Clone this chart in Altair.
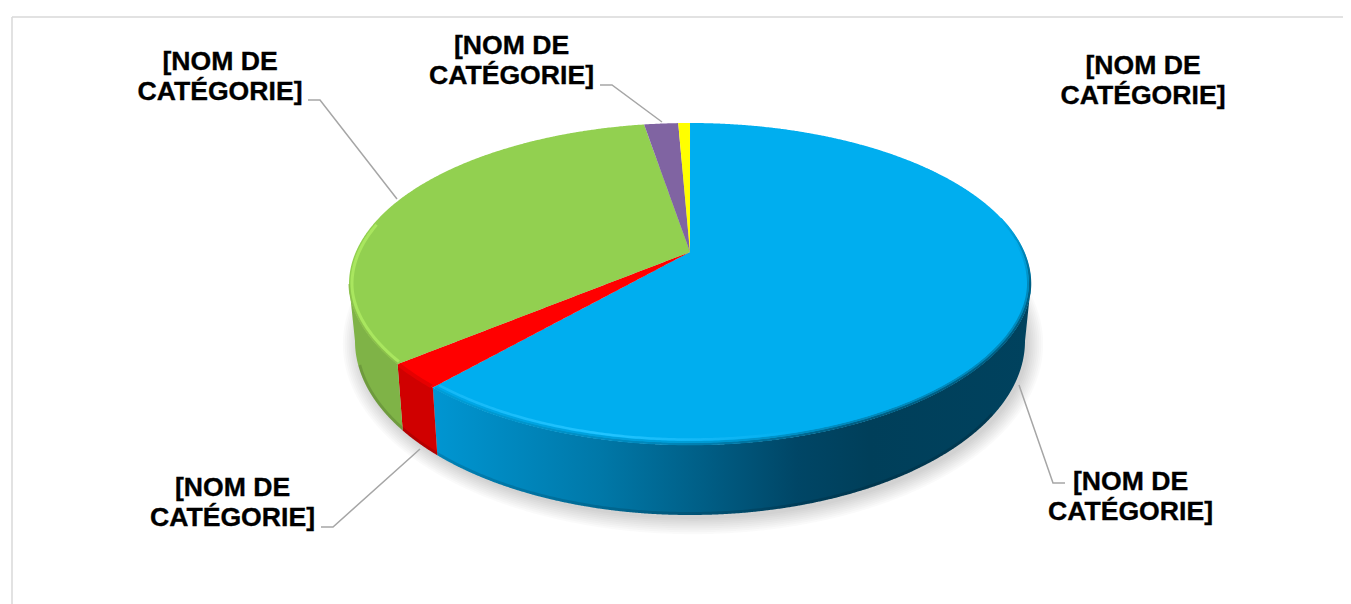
import numpy as np
import pandas as pd
import altair as alt

# ---- chart values (percent shares, clockwise from 12 o'clock)
categories = ["bleu", "rouge", "vert", "violet", "jaune"]
shares = [63.6, 2.8, 31.45, 1.6, 0.55]
top_colors = ["#00AEEF", "#FF0000", "#92D050", "#8064A2", "#FFFF00"]
wall_colors = ["#0096D2", "#D00000", "#7FB347", "#6A5389", "#D4D400"]
label_lines = ["[NOM DE", "CATÉGORIE]"]

# ---- projection of the tilted disc, in page pixels
APEX = (690.0, 252.0)
TOP = dict(cx=690.0, cy=284.0, rx=341.0, ry=161.0, p=1.05)
BOT = dict(cx=690.0, cy=341.0, rx=335.0, ry=174.0, p=1.0)
W, H = 1335, 596

x_enc = alt.X("x:Q", axis=None, scale=alt.Scale(domain=[8, 8 + W], range=[0, W]))
y_enc = alt.Y("y:Q", axis=None, scale=alt.Scale(domain=[8, 8 + H], range=[0, H]))


def ell(e, deg, inset=0.0):
    t = np.radians(deg)
    c = np.cos(t)
    # the near half of the disc is slightly flattened by the perspective
    v = np.where(c < 0, -np.abs(c) ** e.get("p", 1.0), c)
    return e["cx"] + (e["rx"] - inset) * np.sin(t), e["cy"] - (e["ry"] - inset) * v


def arc(e, d0, d1, inset=0.0):
    n = max(2, int(abs(d1 - d0) * 2) + 1)
    return ell(e, np.linspace(d0, d1, n), inset)


def vertical_bands(px, py):
    """Turn an x-monotone polygon into x / y / y2 rows for an area mark."""
    px, py = np.asarray(px, float), np.asarray(py, float)
    qx, qy = np.roll(px, -1), np.roll(py, -1)
    xs = np.unique(np.concatenate([px - 0.02, px + 0.02,
                                   np.arange(px.min(), px.max(), 2.0)]))
    xs = xs[(xs >= px.min()) & (xs <= px.max())]
    rows = []
    for x in xs:
        hits = []
        for a, b, c, d in zip(px, py, qx, qy):
            if (a <= x <= c or c <= x <= a) and a != c:
                hits.append(b + (d - b) * (x - a) / (c - a))
        if len(hits) >= 2:
            rows.append({"x": x, "y": min(hits), "y2": max(hits)})
    return pd.DataFrame(rows)


def area_layer(df, **mark):
    return alt.Chart(df).mark_area(interpolate="linear", **mark).encode(
        x=x_enc, y=y_enc, y2="y2:Q")


def line_layer(xs, ys, **mark):
    df = pd.DataFrame({"x": xs, "y": ys, "i": range(len(xs))})
    return alt.Chart(df).mark_line(interpolate="linear", **mark).encode(
        x=x_enc, y=y_enc, order="i:Q")


def h_grad(stops):
    return alt.Gradient(gradient="linear", x1=0, x2=1, y1=0, y2=0,
                        stops=[alt.GradientStop(offset=o, color=c) for o, c in stops])


def v_grad(stops):
    return alt.Gradient(gradient="linear", x1=0, x2=0, y1=0, y2=1,
                        stops=[alt.GradientStop(offset=o, color=c) for o, c in stops])


# angular limits of every slice
edges = np.concatenate([[0], np.cumsum(shares)]) / sum(shares) * 360
layers = []

# soft shadow
for k in range(9):
    g = k * 1.9
    sx, sy = arc(dict(cx=693, cy=344, rx=335 + g, ry=175 + g), 0, 360)
    layers.append(area_layer(vertical_bands(sx, sy), color="#000000", opacity=0.018))

# side walls (only the front half of the disc shows)
wall_grads = {
    "bleu": h_grad([(0, "#0096D2"), (0.28, "#0078A8"), (0.447, "#005F87"),
                    (0.61, "#004666"), (0.73, "#003F5A"), (1, "#00425E")]),
}
for name, d0, d1, col in zip(categories, edges[:-1], edges[1:], wall_colors):
    lo, hi = max(d0, 90), min(d1, 270)
    if hi <= lo:
        continue
    ax, ay = arc(TOP, lo, hi)
    bx, by = arc(BOT, hi, lo)
    df = vertical_bands(np.r_[ax, bx], np.r_[ay, by])
    layers.append(area_layer(df, color=wall_grads.get(name, col)))

# darker lower edge of the wall
bx, by = arc(BOT, 115, 262, inset=1.5)
layers.append(line_layer(bx, by, color="#000000", opacity=0.13, strokeWidth=3))

# top faces
for name, d0, d1, col in zip(categories, edges[:-1], edges[1:], top_colors):
    ax, ay = arc(TOP, d0, d1)
    df = vertical_bands(np.r_[APEX[0], ax], np.r_[APEX[1], ay])
    layers.append(area_layer(df, color=col))

# bevel: blurred transition between top face and wall
d_blue = edges[1]
# upper right shoulder, fading in going down
ax, ay = arc(TOP, 66, 90, inset=1.0)
layers.append(line_layer(ax, ay, strokeWidth=2.5, strokeCap="butt", stroke=v_grad([
    (0, "#00AEEF"), (0.5, "#0086B8"), (1, "#005F84")])))
ax, ay = arc(TOP, 74, 90, inset=3.0)
layers.append(line_layer(ax, ay, strokeWidth=2.0, strokeCap="butt", stroke=v_grad([
    (0, "#00AEEF"), (0.5, "#009ED8"), (1, "#0089BC")])))
# front rim: outer darker, inner nearer the top colour
ax, ay = arc(TOP, 90, d_blue - 0.4, inset=1.0)
layers.append(line_layer(ax, ay, strokeWidth=2.5, strokeCap="butt", stroke=h_grad([
    (0, "#009ED8"), (0.4, "#0085B8"), (0.7, "#005F84"), (1, "#005F84")])))
ax, ay = arc(TOP, 90, d_blue - 0.4, inset=3.0)
layers.append(line_layer(ax, ay, strokeWidth=2.0, strokeCap="butt", stroke=h_grad([
    (0, "#00A8E8"), (0.4, "#009ED8"), (0.7, "#0089BC"), (1, "#0089BC")])))
ax, ay = arc(TOP, 118, d_blue - 0.6, inset=5.5)
layers.append(line_layer(ax, ay, strokeWidth=2.5, strokeCap="butt", stroke=h_grad([
    (0, "#14B8F6"), (0.3, "#22C4FF"), (0.48, "#14B8F6"), (0.66, "#00AEEF"), (1, "#00AEEF")])))

ax, ay = arc(TOP, edges[1] + 0.4, edges[2] - 0.4, inset=0.5)
layers.append(line_layer(ax, ay, color="#E60000", strokeWidth=4, strokeCap="butt"))

ax, ay = arc(TOP, edges[2] + 0.4, 292, inset=3)
layers.append(line_layer(ax, ay, color="#A9E65F", strokeWidth=3, strokeCap="butt"))
ax, ay = arc(TOP, edges[2] + 0.2, 270, inset=0.3)
layers.append(line_layer(ax, ay, color="#8CC04C", strokeWidth=1.5, strokeCap="butt"))

# leader lines
leaders = [
    [(308, 100), (320, 100), (397, 199)],
    [(600, 85), (612, 85), (662, 122)],
    [(321, 527), (333, 527), (420, 449)],
    [(1065, 483), (1053, 483), (1019, 385)],
]
for pts in leaders:
    xs, ys = zip(*pts)
    layers.append(line_layer(xs, ys, color="#A6A6A6", strokeWidth=1.5))

# labels (two lines each)
label_pos = [(220, 70), (511.5, 54), (1143, 74), (232.5, 496), (1130.5, 490)]
rows = []
for cx, base in label_pos:
    for j, txt in enumerate(label_lines):
        rows.append({"x": cx, "y": base + j * 30, "t": txt})
layers.append(alt.Chart(pd.DataFrame(rows)).mark_text(
    font="Liberation Sans", fontWeight="bold", fontSize=26.6, color="#000000",
    stroke="#000000", strokeWidth=0.35,
    align="center", baseline="alphabetic").encode(x=x_enc, y=y_enc, text="t:N"))

# chart frame
frame = pd.DataFrame({"x": [12, 12], "y": [17, 17], "x2": [12, 8 + W], "y2": [8 + H, 17]})
layers.insert(0, alt.Chart(frame).mark_rule(color="#D9D9D9", strokeWidth=1.5).encode(
    x=x_enc, y=y_enc, x2="x2:Q", y2="y2:Q"))

chart = alt.layer(*layers).properties(
    width=W, height=H, padding=0, autosize=alt.AutoSizeParams(type="none"),
    background="#FFFFFF",
).configure_view(stroke=None)

chart.save("out.html", embed_options={"renderer": "svg", "actions": False})
